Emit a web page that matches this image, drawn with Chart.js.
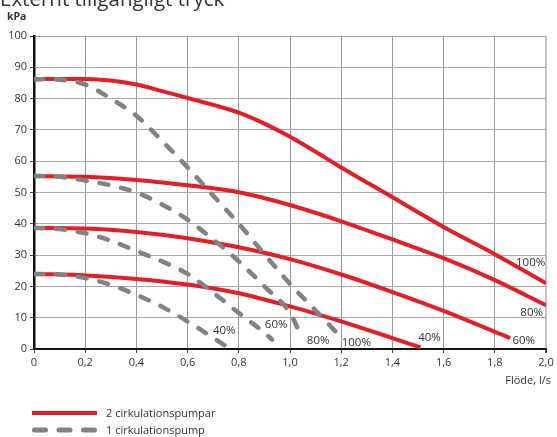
<!DOCTYPE html>
<html lang="sv">
<head>
<meta charset="utf-8">
<title>Externt tillgängligt tryck</title>
<script src="https://cdn.jsdelivr.net/npm/chart.js@4/dist/chart.umd.min.js"></script>
<style>
  body { margin: 0; background: #fff; }
  #ram { position: relative; width: 557px; height: 437px; overflow: hidden; font-family: "Open Sans", sans-serif; color: #333; }
  #diagram { position: absolute; left: 0; top: 0; }
  .txt { position: absolute; white-space: nowrap; line-height: 1; }
  .rubrik { left: 0; top: -12px; font-size: 20.5px; }
  .enhet { left: 7px; top: 11px; font-size: 10.5px; font-weight: bold; }
  .axel { right: 6px; top: 374px; font-size: 11px; }
  .leg { left: 106px; font-size: 11px; }
  #prov { position: absolute; left: 0; top: 400px; }
</style>
</head>
<body>
<div id="ram">
  <canvas id="diagram" width="557" height="437"></canvas>
  <div class="txt rubrik">Externt tillgängligt tryck</div>
  <div class="txt enhet">kPa</div>
  <div class="txt axel">Flöde, l/s</div>
  <svg id="prov" width="110" height="37">
    <line x1="32" y1="13" x2="97" y2="13" stroke="#e31e26" stroke-width="4"/>
    <line x1="34.5" y1="30" x2="96" y2="30" stroke="#828282" stroke-width="5" stroke-linecap="round" stroke-dasharray="11 13.5"/>
  </svg>
  <div class="txt leg" style="top:407px">2 cirkulationspumpar</div>
  <div class="txt leg" style="top:424px">1 cirkulationspump</div>
</div>
<script>
// 2 cirkulationspumpar (röda heldragna kurvor)
const flodeRod100 = [0, 0.1, 0.2, 0.3, 0.4, 0.5, 0.6, 0.7, 0.8, 0.9, 1.0, 1.1, 1.2, 1.4, 1.6, 1.8, 2.0];
const tryckRod100 = [86.2, 86.3, 86.3, 85.8, 84.5, 82.4, 80.2, 78, 75.5, 72, 67.8, 63, 58, 48.5, 39, 30.3, 21];
const flodeRod80 = [0, 0.2, 0.4, 0.6, 0.8, 1.0, 1.2, 1.4, 1.6, 1.8, 2.0];
const tryckRod80 = [55.3, 55, 54, 52.3, 50.1, 46, 40.8, 35, 29, 22, 14];
const flodeRod60 = [0, 0.2, 0.4, 0.6, 0.8, 1.0, 1.2, 1.4, 1.6, 1.8, 1.86];
const tryckRod60 = [38.7, 38.5, 37.4, 35.4, 32.5, 28.7, 23.8, 18.2, 12.2, 5.5, 3.5];
const flodeRod40 = [0, 0.2, 0.4, 0.6, 0.8, 1.0, 1.1, 1.2, 1.3, 1.4, 1.51];
const tryckRod40 = [24, 23.5, 22.4, 20.6, 17.8, 13.6, 11.3, 8.8, 6.2, 3.5, 0.5];

// 1 cirkulationspump (grå streckade kurvor)
const flodeGra100 = [0, 0.1, 0.2, 0.3, 0.4, 0.5, 0.6, 0.7, 0.8, 0.9, 1.0, 1.1, 1.185];
const tryckGra100 = [86.2, 86, 84.5, 80, 74.5, 66.5, 58, 49, 40, 30.3, 20.8, 12.3, 5];
const flodeGra80 = [0, 0.1, 0.2, 0.3, 0.4, 0.5, 0.6, 0.7, 0.8, 0.9, 1.0, 1.045];
const tryckGra80 = [55.3, 55, 53.8, 52.3, 50, 46.2, 41.3, 35, 28, 20, 11.5, 4];
const flodeGra60 = [0, 0.1, 0.2, 0.3, 0.4, 0.5, 0.6, 0.7, 0.8, 0.9, 0.93];
const tryckGra60 = [38.7, 38.3, 37, 34.6, 31.3, 28, 24, 18, 11.5, 5.2, 3];
const flodeGra40 = [0, 0.1, 0.2, 0.3, 0.4, 0.5, 0.6, 0.7, 0.76];
const tryckGra40 = [24, 23.8, 22.7, 20.5, 17.3, 13.5, 8.8, 3.6, 0.3];

const flodeTicks = [0, 0.2, 0.4, 0.6, 0.8, 1.0, 1.2, 1.4, 1.6, 1.8, 2.0];
const tryckTicks = [0, 10, 20, 30, 40, 50, 60, 70, 80, 90, 100];

// procentetiketter, förankrade i datakoordinater (flöde, tryck)
const etikettText = ['100%', '80%', '60%', '40%', '40%', '60%', '80%', '100%'];
const etikettFlode = [1.94, 1.944, 1.913, 1.545, 0.743, 0.946, 1.11, 1.259];
const etikettTryck = [27.7, 11.7, 2.5, 3.7, 6.0, 7.6, 2.5, 2.1];

const ROD = '#e31e26';
const GRA = '#828282';
const FONT = '"Open Sans", sans-serif';

function punkter(xs, ys) {
  return xs.map((x, i) => ({ x, y: ys[i] }));
}

function kurva(xs, ys, streckad) {
  return {
    data: punkter(xs, ys),
    borderColor: streckad ? GRA : ROD,
    borderWidth: streckad ? 4.5 : 4,
    borderDash: streckad ? [9, 13] : [],
    borderCapStyle: streckad ? 'round' : 'butt',
    cubicInterpolationMode: 'monotone',
    pointRadius: 0,
    fill: false
  };
}

// grå först = ritas överst
const datasets = [
  kurva(flodeGra100, tryckGra100, true),
  kurva(flodeGra80, tryckGra80, true),
  kurva(flodeGra60, tryckGra60, true),
  kurva(flodeGra40, tryckGra40, true),
  kurva(flodeRod100, tryckRod100, false),
  kurva(flodeRod80, tryckRod80, false),
  kurva(flodeRod60, tryckRod60, false),
  kurva(flodeRod40, tryckRod40, false)
];

const etiketter = {
  id: 'etiketter',
  afterDatasetsDraw(chart) {
    const { ctx, scales } = chart;
    ctx.save();
    ctx.font = '11.5px ' + FONT;
    ctx.fillStyle = '#333';
    ctx.textAlign = 'center';
    ctx.textBaseline = 'middle';
    etikettText.forEach((t, i) => {
      ctx.fillText(t, scales.x.getPixelForValue(etikettFlode[i]), scales.y.getPixelForValue(etikettTryck[i]));
    });
    ctx.restore();
  }
};

function kommatecken(v) {
  if (v === 0) return '0';
  return v.toFixed(1).replace('.', ',');
}

new Chart(document.getElementById('diagram'), {
  type: 'line',
  data: { datasets },
  options: {
    responsive: false,
    animation: false,
    layout: { padding: { top: 36, right: 11, left: 0, bottom: 0 } },
    plugins: { legend: { display: false }, tooltip: { enabled: false } },
    scales: {
      x: {
        type: 'linear',
        min: 0,
        max: 2,
        afterFit: s => { s.height = 88; },
        afterBuildTicks: s => { s.ticks = flodeTicks.map(v => ({ value: v })); },
        ticks: {
          autoSkip: false,
          maxRotation: 0,
          padding: 3,
          color: '#333',
          font: { family: FONT, size: 11 },
          callback: v => kommatecken(v)
        },
        grid: {
          color: c => (c.tick && c.tick.value === 2 ? '#c4c4c4' : '#9a9a9a'),
          lineWidth: c => (c.tick && c.tick.value === 2 ? 2 : 1),
          tickLength: 4,
          tickColor: '#444'
        },
        border: { color: '#111', width: 2 }
      },
      y: {
        min: 0,
        max: 100,
        afterFit: s => { s.width = 34; },
        afterBuildTicks: s => { s.ticks = tryckTicks.map(v => ({ value: v })); },
        ticks: {
          padding: 3,
          color: '#333',
          font: { family: FONT, size: 11 }
        },
        grid: {
          color: '#a8a8a8',
          lineWidth: 1,
          tickLength: 4,
          tickColor: '#444'
        },
        border: { color: '#111', width: 2.5 }
      }
    }
  },
  plugins: [etiketter]
});
</script>
</body>
</html>
